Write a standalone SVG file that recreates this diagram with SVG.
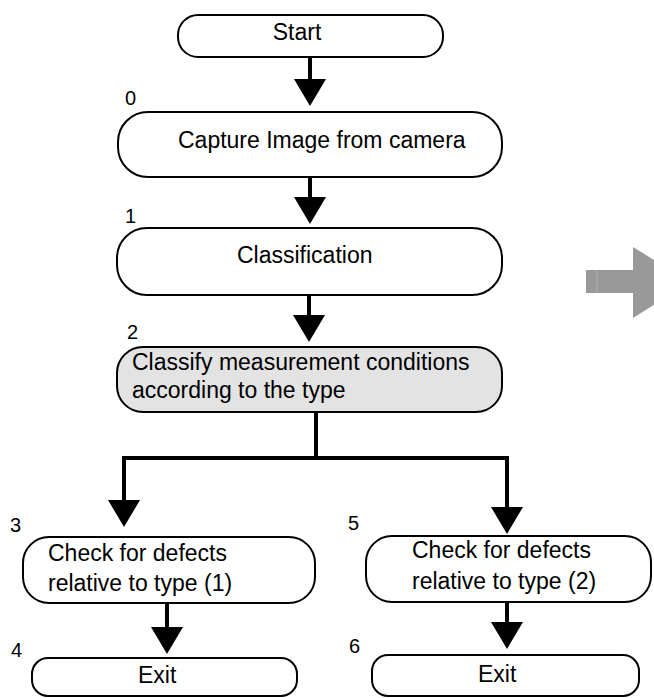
<svg xmlns="http://www.w3.org/2000/svg" width="654" height="698" viewBox="0 0 654 698">
<defs>
<style>
.box{fill:#ffffff;stroke:#000000;stroke-width:2}
.gray{fill:#e3e3e3}
.lbl{font-family:"Liberation Sans",Arial,sans-serif;font-size:23px;fill:#000}
.num{font-family:"Liberation Sans",Arial,sans-serif;font-size:20px;fill:#000}
.con{fill:none;stroke:#000;stroke-width:4}
</style>
<marker id="ah" viewBox="0 0 27 32" refX="1" refY="16" markerWidth="27" markerHeight="32" markerUnits="userSpaceOnUse" orient="auto">
<path d="M0,0 L27,16 L0,32 Z" fill="#000"/>
</marker>
</defs>
<rect width="654" height="698" fill="#ffffff"/>
<g id="connectors">
<path class="con" d="M310,57 V80" marker-end="url(#ah)"/>
<path class="con" d="M310,177 V198" marker-end="url(#ah)"/>
<path class="con" d="M309,295 V316" marker-end="url(#ah)"/>
<path class="con" d="M316,412 V458"/>
<path class="con" d="M124,458 H507"/>
<path class="con" d="M124,456 V501" marker-end="url(#ah)"/>
<path class="con" d="M507,456 V508" marker-end="url(#ah)"/>
<path class="con" d="M167,603 V628" marker-end="url(#ah)"/>
<path class="con" d="M507,602 V623" marker-end="url(#ah)"/>
</g>
<g id="start">
<rect class="box" x="178" y="15" width="265" height="42" rx="20" ry="20"/>
<text class="lbl" x="297" y="40" text-anchor="middle">Start</text>
</g>
<g id="step0">
<text class="num" x="125" y="105">0</text>
<rect class="box" x="118" y="112" width="384" height="65" rx="30" ry="30"/>
<text class="lbl" x="178" y="148">Capture Image from camera</text>
</g>
<g id="step1">
<text class="num" x="125" y="223">1</text>
<rect class="box" x="117" y="228" width="385" height="67" rx="30" ry="30"/>
<text class="lbl" x="237" y="263">Classification</text>
</g>
<g id="step2">
<text class="num" x="127" y="339">2</text>
<rect class="box gray" x="117" y="347" width="385" height="65" rx="26" ry="26"/>
<text class="lbl" x="132" y="370">Classify measurement conditions</text>
<text class="lbl" x="132" y="398">according to the type</text>
</g>
<g id="step3">
<text class="num" x="10" y="532">3</text>
<rect class="box" x="23" y="537" width="292" height="66" rx="26" ry="26"/>
<text class="lbl" x="48" y="561">Check for defects</text>
<text class="lbl" x="48" y="591">relative to type (1)</text>
</g>
<g id="step4">
<text class="num" x="11" y="657">4</text>
<rect class="box" x="32" y="658" width="265" height="38" rx="16" ry="16"/>
<text class="lbl" x="138" y="683">Exit</text>
</g>
<g id="step5">
<text class="num" x="348" y="530">5</text>
<rect class="box" x="366" y="536" width="285" height="66" rx="26" ry="26"/>
<text class="lbl" x="412" y="558">Check for defects</text>
<text class="lbl" x="412" y="589">relative to type (2)</text>
</g>
<g id="step6">
<text class="num" x="349" y="653">6</text>
<rect class="box" x="372" y="655" width="267" height="41" rx="16" ry="16"/>
<text class="lbl" x="478" y="682">Exit</text>
</g>
<g id="gray-arrow">
<rect x="586" y="270" width="48" height="23" fill="#999999"/>
<line x1="597" y1="270" x2="597" y2="293" stroke="#b0b0b0" stroke-width="1"/>
<polygon points="633,247 690,282 633,318" fill="#999999"/>
</g>
</svg>
